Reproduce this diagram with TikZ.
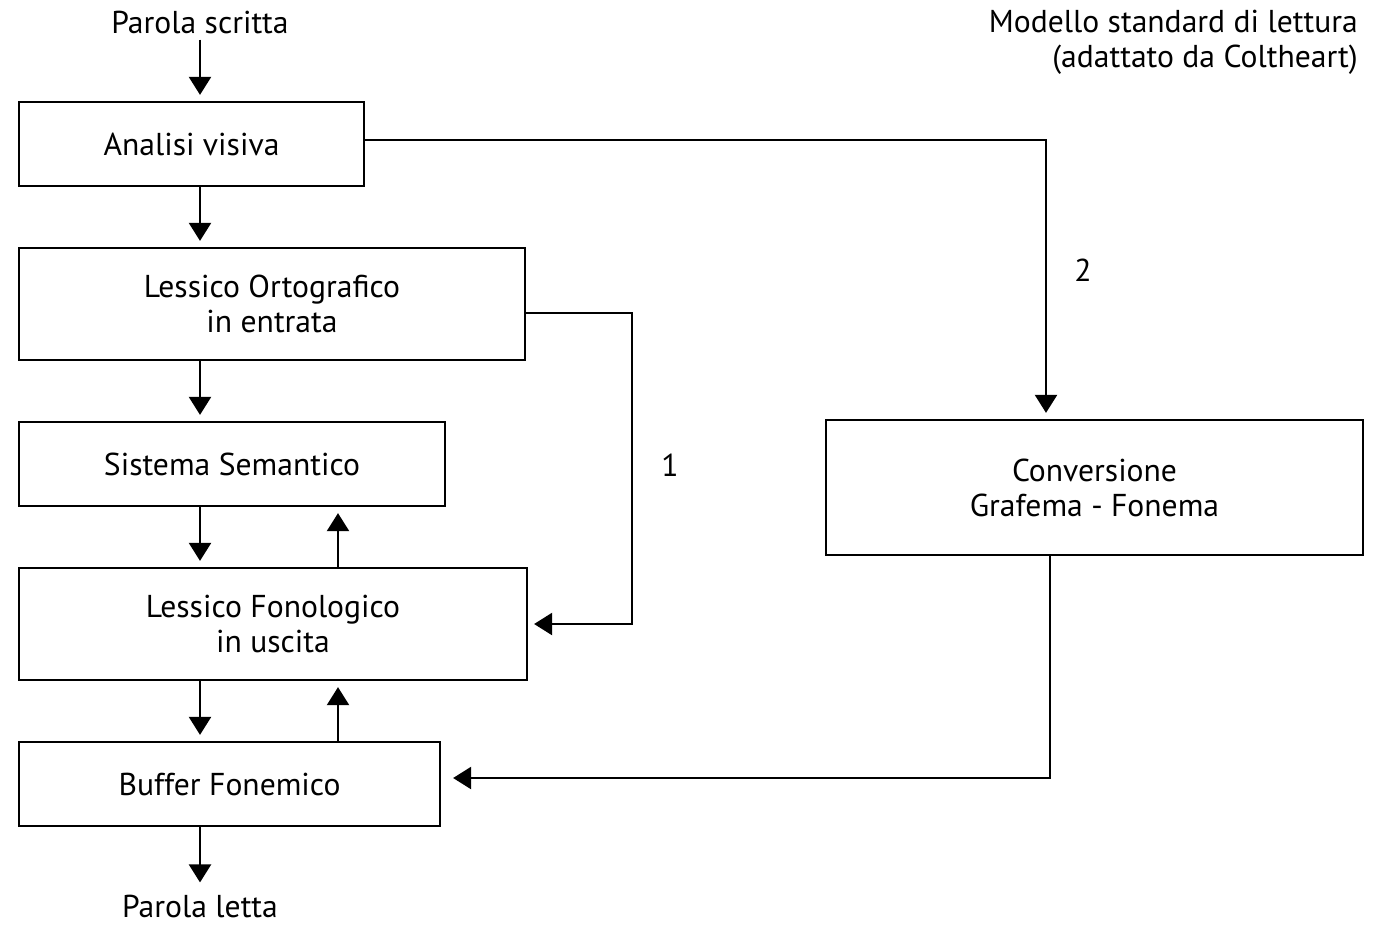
\documentclass[tikz,border=0pt]{standalone}
\usepackage{fontspec}
\setmainfont{PT Sans}
\usetikzlibrary{arrows.meta}

\begin{document}
\begin{tikzpicture}[
        x=0.02cm, y=-0.02cm,
        every node/.style = {font=\fontsize{18}{20}\selectfont},
        box/.style = {draw, line width=1.3pt, align=center, inner sep=0pt},
        arr/.style = {line width=1.3pt, -{Triangle[length=0.36cm, width=0.44cm]}, shorten >=0.12cm},
        wide/.style = {minimum width=#1cm}
        ]
        \useasboundingbox (0,0) rectangle (1378,924);
        % boxes
        \node[box, wide=6.9,   minimum height=1.68cm] (vis)  at (191.5,144)  {Analisi visiva};
        \node[box, wide=10.12, minimum height=2.24cm] (ort)  at (272,304)    {Lessico Ortografico\\in entrata};
        \node[box, wide=8.52,  minimum height=1.68cm] (sem)  at (232,464)    {Sistema Semantico};
        \node[box, wide=10.16, minimum height=2.24cm] (fon)  at (273,624)    {Lessico Fonologico\\in uscita};
        \node[box, wide=8.42,  minimum height=1.68cm] (buf)  at (229.5,784)  {Buffer Fonemico};
        \node[box, wide=10.74, minimum height=2.7cm]  (conv) at (1094.5,487.5) {Conversione\\Grafema - Fonema};
        % labels
        \node (in)  at (200,22)  {Parola scritta};
        \node (out) at (200,906) {Parola letta};
        \node[align=right, anchor=north east] (title) at (1364,4) {Modello standard di lettura\\(adattato da Coltheart)};
        \node (r1) at (670,465)  {1};
        \node (r2) at (1083,270) {2};
        % bends
        \coordinate (up) at (338,0);
        \coordinate (k1) at (632,313);
        \coordinate (k2) at (1046,140);
        \coordinate (k3) at (1050,778);
        % main path
        \draw[arr] (in.south) -- (in.south |- vis.north);
        \foreach \a/\b in {vis/ort, ort/sem, sem/fon, fon/buf}
            \draw[arr] (in.south |- \a.south) -- (in.south |- \b.north);
        \draw[arr] (in.south |- buf.south) -- (out.north);
        \draw[arr] (up |- fon.north) -- (up |- sem.south);
        \draw[arr] (up |- buf.north) -- (up |- fon.south);
        % route 1
        \draw[arr] (ort.east |- k1) -- (k1) |- (fon.east);
        % route 2
        \draw[arr] (vis.east |- k2) -- (k2) -- (k2 |- conv.north);
        \draw[arr, shorten >=0.24cm] (k3 |- conv.south) -- (k3) -- (buf.east |- k3);
    \end{tikzpicture}
\end{document}
